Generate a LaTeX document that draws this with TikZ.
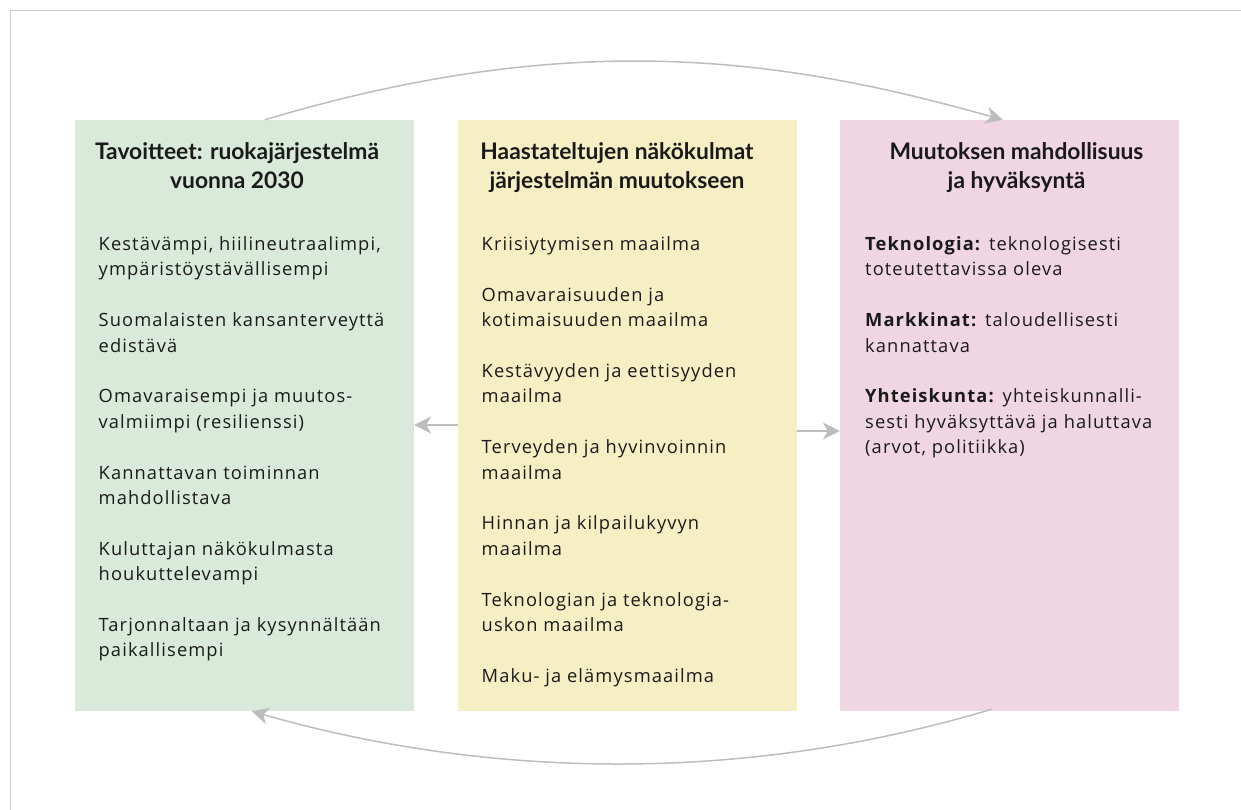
\documentclass[tikz,border=0pt]{standalone}
\usepackage{fontspec}
\setmainfont{Open Sans}
\newfontfamily\bodyfont{Open Sans}[LetterSpace=6]
\newfontfamily\titlefont{Lato}
\usetikzlibrary{arrows.meta}
\definecolor{boxgreen}{RGB}{217,234,219}
\definecolor{boxyellow}{RGB}{247,239,196}
\definecolor{boxpink}{RGB}{240,213,227}
\definecolor{arrgray}{RGB}{189,189,189}
\definecolor{framegray}{RGB}{204,204,204}
\definecolor{txt}{RGB}{26,26,26}
\tikzset{
  panel/.style={rectangle, inner sep=0pt, minimum width=339pt, minimum height=591pt, draw=none},
  bodytext/.style={anchor=base west, inner sep=0pt, align=left, text=txt, font=\bodyfont\fontsize{18.3}{25.4}\selectfont},
  titletext/.style={anchor=base, inner sep=0pt, align=center, text=txt, font=\titlefont\fontsize{22.8}{28.3}\selectfont\bfseries},
  arr/.style={draw=arrgray, line width=1.5pt, -{Stealth[length=17pt,width=17pt,inset=5pt,fill=arrgray]}}
}
\begin{document}
\begin{tikzpicture}[x=1pt,y=-1pt]
\useasboundingbox (0,0) rectangle (1241,810);
\draw[framegray, line width=1pt] (10,815) -- (10,11) -- (1246,11);
% panels
\node[panel, fill=boxgreen] (g) at (244.5,415.5) {};
\node[panel, fill=boxyellow] (y) at (627.5,415.5) {};
\node[panel, fill=boxpink] (p) at (1009.5,415.5) {};
% titles (anchor = baseline of last line)
\node[titletext] (gt) at (237,188.3) {Tavoitteet: ruokajärjestelmä\\vuonna 2030};
\node[titletext] (yt) at (617,188.3) {Haastateltujen näkökulmat\\järjestelmän muutokseen};
\node[titletext] (ptitle) at (1016.5,188.3) {Muutoksen mahdollisuus\\ja hyväksyntä};
% green items
\node[bodytext] (g1) at (98.5,275.9) {Kestävämpi, hiilineutraalimpi,\\ympäristöystävällisempi};
\node[bodytext] (g2) at (98.5,352.1) {Suomalaisten kansanterveyttä\\edistävä};
\node[bodytext] (g3) at (98.5,428.3) {Omavaraisempi ja muutos-\\valmiimpi (resilienssi)};
\node[bodytext] (g4) at (98.5,504.5) {Kannattavan toiminnan\\mahdollistava};
\node[bodytext] (g5) at (98.5,580.7) {Kuluttajan näkökulmasta\\houkuttelevampi};
\node[bodytext] (g6) at (98.5,656.9) {Tarjonnaltaan ja kysynnältään\\paikallisempi};
% yellow items
\node[bodytext] (y1) at (481.5,250.5) {Kriisiytymisen maailma};
\node[bodytext] (y2) at (481.5,326.7) {Omavaraisuuden ja\\kotimaisuuden maailma};
\node[bodytext] (y3) at (481.5,402.9) {Kestävyyden ja eettisyyden\\maailma};
\node[bodytext] (y4) at (481.5,479.1) {Terveyden ja hyvinvoinnin\\maailma};
\node[bodytext] (y5) at (481.5,555.3) {Hinnan ja kilpailukyvyn\\maailma};
\node[bodytext] (y6) at (481.5,631.5) {Teknologian ja teknologia-\\uskon maailma};
\node[bodytext] (y7) at (481.5,682.3) {Maku- ja elämysmaailma};
% pink items
\node[bodytext] (p1) at (865,275.9) {\textbf{Teknologia:} teknologisesti\\toteutettavissa oleva};
\node[bodytext] (p2) at (865,352.1) {\textbf{Markkinat:} taloudellisesti\\kannattava};
\node[bodytext] (p3) at (865,453.7) {\textbf{Yhteiskunta:} yhteiskunnalli-\\sesti hyväksyttävä ja haluttava\\(arvot, politiikka)};
% connectors
\draw[arr] ([yshift=-9.5pt]y.west) -- ([yshift=-9.5pt]g.east);
\draw[arr] ([yshift=-15.5pt]y.east) -- ([yshift=-15.5pt]p.west);
\draw[arr] ([xshift=190pt]g.north west) .. controls (577,26.5) and (786,58.8) .. ([xshift=163pt]p.north west);
\draw[arr] ([xshift=152pt,yshift=2pt]p.south west) .. controls (709.5,793.8) and (449.5,768.3) .. ([xshift=177pt]g.south west);
\end{tikzpicture}
\end{document}
